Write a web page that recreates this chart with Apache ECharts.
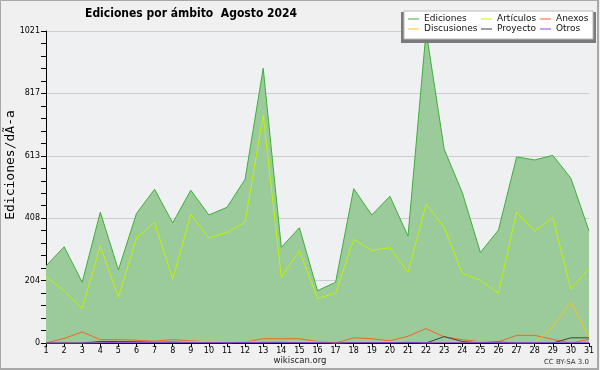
<!DOCTYPE html>
<html><head><meta charset="utf-8">
<script src="https://cdn.jsdelivr.net/npm/echarts@6/dist/echarts.min.js"></script>
<style>html,body{margin:0;padding:0;background:#fff}#c{width:600px;height:370px}</style>
</head><body><div id="c"></div>
<script>
const days = ['1','2','3','4','5','6','7','8','9','10','11','12','13','14','15','16','17','18','19','20','21','22','23','24','25','26','27','28','29','30','31'];
const ediciones = [252,315,199,428,239,424,503,393,500,419,444,536,899,313,377,171,199,505,419,480,350,1021,634,492,296,370,609,599,614,539,367];
const articulos = [217,171,113,318,150,343,395,209,421,343,362,395,746,215,303,146,163,339,303,312,231,454,379,228,205,163,428,366,410,177,243];
const anexos = [0,15,36,11,11,9,6,11,7,4,0,3,14,14,14,5,0,17,14,7,22,47,20,11,4,4,25,25,12,0,12];
const discusiones = [0,0,0,1,1,1,2,2,3,6,1,3,5,3,3,4,0,2,3,4,2,0,2,4,4,1,0,0,53,134,19];
const proyecto = [0,0,0,5,5,4,2,3,1,0,1,1,2,2,1,0,0,1,1,1,2,0,21,5,0,3,0,0,0,17,17];
const otros = [0,0,0,1,2,2,1,1,1,1,1,1,1,1,1,1,0,1,1,1,1,1,1,1,1,1,1,1,1,1,1];
const yTicks = [0,204,408,613,817,1021];
const titleText = 'Ediciones por ámbito  Agosto 2024';
const yName = 'Ediciones/dÃ-a';

const F = "'DejaVu Sans', sans-serif";
const chart = echarts.init(document.getElementById('c'), null, {renderer:'canvas'});
const yMax = yTicks[yTicks.length-1];
const mk = (name, data, color, extra) => Object.assign({
  name, type:'line', data, symbol:'none', smooth:false,
  lineStyle:{width:1, color}, itemStyle:{color}, emphasis:{disabled:true}, z:3
}, extra||{});
const legendBase = {orient:'vertical', icon:'rect', itemWidth:11, itemHeight:1, itemGap:0, padding:0,
  textStyle:{fontFamily:F, fontSize:9, color:'#111', lineHeight:10}, selectedMode:false, z:20};
chart.setOption({
  animation:false,
  backgroundColor:'#f0f0f0',
  title:{text:titleText, left:85, top:8, padding:0, textStyle:{fontFamily:"'DejaVu Sans Condensed', 'Liberation Sans', sans-serif", fontSize:12, fontWeight:'bold', color:'#000'}},
  grid:{left:46, right:11, top:31, bottom:27, show:true, backgroundColor:'#eff0f2', borderWidth:0},
  xAxis:{type:'category', data:days, boundaryGap:false,
    axisLine:{lineStyle:{color:'#000', width:1}},
    axisTick:{show:true, interval:0, length:4, lineStyle:{color:'#000'}},
    axisLabel:{interval:0, margin:4, fontFamily:F, fontSize:8, color:'#000'},
    splitLine:{show:false}},
  yAxis:{type:'value', min:0, max:yMax, interval:yMax/5,
    axisLine:{show:true, lineStyle:{color:'#000', width:1}},
    axisTick:{show:true, length:5, lineStyle:{color:'#000'}},
    minorTick:{show:true, splitNumber:5, length:5, lineStyle:{color:'#000'}},
    axisLabel:{margin:6, fontFamily:F, fontSize:8, color:'#000', formatter:v=>String(Math.round(v))},
    splitLine:{show:true, lineStyle:{color:'#cccccc', width:1}}},
  legend:[
    Object.assign({}, legendBase, {left:408, top:14, data:['Ediciones','Discusiones']}),
    Object.assign({}, legendBase, {left:481, top:14, data:['Artículos','Proyecto']}),
    Object.assign({}, legendBase, {left:540, top:14, data:['Anexos','Otros']})
  ],
  graphic:[
    {type:'rect', shape:{x:401, y:12, width:195, height:31}, style:{fill:'#7a7a7a'}, z:10},
    {type:'rect', shape:{x:404, y:11, width:189, height:28}, style:{fill:'#ffffff', stroke:'#bbbbbb', lineWidth:1}, z:11},
    {type:'text', x:11, y:165, rotation:Math.PI/2, style:{text:yName, font:"13px 'DejaVu Sans Mono', monospace", fill:'#000', textAlign:'center', textVerticalAlign:'middle'}},
    {type:'text', x:300, y:361, style:{text:'wikiscan.org', font:"8.5px 'DejaVu Sans', sans-serif", fill:'#222', textAlign:'center', textVerticalAlign:'middle'}},
    {type:'text', x:589, y:362, style:{text:'CC BY-SA 3.0', font:"7px 'DejaVu Sans', sans-serif", fill:'#333', textAlign:'right', textVerticalAlign:'middle'}},
    {type:'rect', shape:{x:0.5, y:0.5, width:597, height:368}, style:{fill:null, stroke:'#a8a8a8', lineWidth:1}, z:30},
    {type:'line', shape:{x1:598, y1:0, x2:598, y2:369}, style:{stroke:'#a8a8a8', lineWidth:2}, z:30},
    {type:'line', shape:{x1:0, y1:369, x2:599, y2:369}, style:{stroke:'#a8a8a8', lineWidth:2}, z:30}
  ],
  series:[
    mk('Ediciones', ediciones, '#3fae3a', {areaStyle:{color:'#9bcb9b', opacity:1}, z:2}),
    mk('Artículos', articulos, '#c2f200'),
    mk('Anexos', anexos, '#f26522'),
    mk('Discusiones', discusiones, '#f2c41e'),
    mk('Proyecto', proyecto, '#404040'),
    mk('Otros', otros, '#8a46ea')
  ]
});
</script></body></html>
